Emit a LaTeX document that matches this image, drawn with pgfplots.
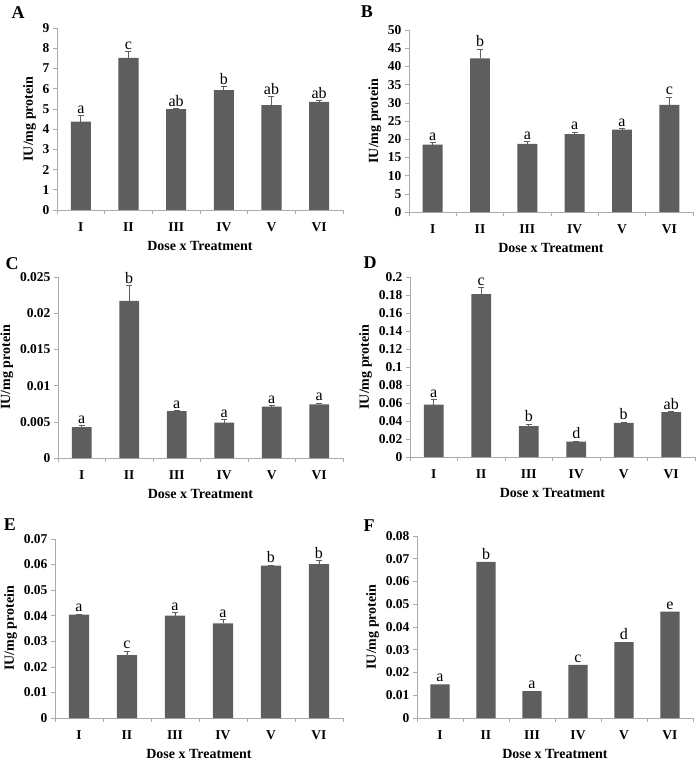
\documentclass[border=0pt]{standalone}
\usepackage{fontspec}
\setmainfont{Liberation Serif}
\usepackage{pgfplots}
\usepackage{pgfplotstable}
\pgfplotsset{compat=1.18}
\definecolor{barcol}{HTML}{5E5E5E}
\definecolor{axiscol}{HTML}{ABABAB}

\pgfplotsset{
  panel/.style={
    scale only axis,
    axis x line=bottom, axis y line=left,
    axis line style={draw=axiscol, -, line width=0.8pt},
    xmin=-0.5, xmax=5.5, ymin=0,
    xtick={0,...,5}, xticklabels={I,II,III,IV,V,VI},
    minor xtick={-0.5,0.5,...,5.5},
    major x tick style={draw=none},
    minor x tick style={draw=axiscol, line width=0.6pt},
    minor tick length=4pt,
    y tick style={draw=axiscol, line width=0.6pt},
    major tick length=4pt,
    tick align=outside,
    tick label style={font=\fontsize{13.5}{14}\selectfont\bfseries},
    xticklabel style={yshift=-5pt},
    /pgf/number format/assume math mode=true,
    /pgf/number format/fixed, /pgf/number format/precision=3,
    scaled y ticks=false,
    xlabel={Dose x Treatment}, ylabel={IU/mg protein},
    label style={font=\fontsize{14}{15}\selectfont\bfseries},
    xlabel style={yshift=-3pt},
    clip=false,
  },
  bars/.style={ybar, bar width=0.42, fill=barcol, draw=none},
  errs/.style={error bars/.cd, y dir=plus, y explicit,
    error bar style={barcol, line width=0.8pt},
    error mark options={rotate=90, mark size=3pt, barcol, line width=0.8pt}},
  letters/.style={only marks, mark=*, mark size=0pt,
    mark options={draw=none, fill=none},
    nodes near coords, point meta=explicit symbolic,
    nodes near coords style={font=\fontsize{16}{17}\selectfont,
      anchor=south, inner sep=2pt, text=black}},
}

% x = category, y = mean, e = error (up), t = top of error bar, lab = letter
\pgfplotstableread{
x y e t lab
0 4.37 0.29 4.66 a
1 7.52 0.30 7.82 c
2 4.99 0.02 5.01 ab
3 5.93 0.16 6.09 b
4 5.19 0.41 5.60 ab
5 5.35 0.05 5.40 ab
}\dataA
\pgfplotstableread{
x y e t lab
0 18.5 0.6 19.1 a
1 42.2 2.5 44.7 b
2 18.7 0.6 19.3 a
3 21.4 0.6 22.0 a
4 22.6 0.3 22.9 a
5 29.4 2.1 31.5 c
}\dataB
\pgfplotstableread{
x y e t lab
0 0.00426 0.00022 0.00448 a
1 0.0217 0.0021 0.0238 b
2 0.00648 0.00008 0.00656 a
3 0.0049 0.0004 0.0053 a
4 0.0071 0.0001 0.0072 a
5 0.0074 0.0002 0.0076 a
}\dataC
\pgfplotstableread{
x y e t lab
0 0.0581 0.0059 0.0640 a
1 0.181 0.007 0.188 c
2 0.0344 0.0019 0.0363 b
3 0.0170 0.0008 0.0178 d
4 0.0380 0.0010 0.0390 b
5 0.0500 0.0003 0.0503 ab
}\dataD
\pgfplotstableread{
x y e t lab
0 0.0404 0.0003 0.0407 a
1 0.0246 0.0016 0.0262 c
2 0.0400 0.0012 0.0412 a
3 0.0370 0.0015 0.0385 a
4 0.0596 0.0002 0.0598 b
5 0.0602 0.0013 0.0615 b
}\dataE
\pgfplotstableread{
x y lab
0 0.0148 a
1 0.0686 b
2 0.0118 a
3 0.0234 c
4 0.0333 d
5 0.0468 e
}\dataF

\begin{document}
\begin{tikzpicture}[x=1pt, y=1pt]

% A
\begin{axis}[panel, at={(57pt,-28pt)}, anchor=north west,
  width=286pt, height=182pt, ymax=9, ytick={0,1,...,9}]
  \addplot[bars, errs] table[x=x, y=y, y error=e] {\dataA};
  \addplot[letters] table[x=x, y=t, meta=lab] {\dataA};
\end{axis}

% B
\begin{axis}[panel, at={(409pt,-30pt)}, anchor=north west,
  width=284pt, height=182pt, ymax=50, ytick={0,5,...,50}]
  \addplot[bars, errs] table[x=x, y=y, y error=e] {\dataB};
  \addplot[letters] table[x=x, y=t, meta=lab] {\dataB};
\end{axis}

% C
\begin{axis}[panel, at={(58pt,-277pt)}, anchor=north west,
  width=285pt, height=181pt, ymax=0.025,
  ytick={0,0.005,0.01,0.015,0.02,0.025}]
  \addplot[bars, errs] table[x=x, y=y, y error=e] {\dataC};
  \addplot[letters] table[x=x, y=t, meta=lab] {\dataC};
\end{axis}

% D
\begin{axis}[panel, at={(410pt,-277pt)}, anchor=north west,
  width=285pt, height=180pt, ymax=0.2,
  ytick={0,0.02,0.04,0.06,0.08,0.1,0.12,0.14,0.16,0.18,0.2}]
  \addplot[bars, errs] table[x=x, y=y, y error=e] {\dataD};
  \addplot[letters] table[x=x, y=t, meta=lab] {\dataD};
\end{axis}

% E
\begin{axis}[panel, at={(55pt,-539pt)}, anchor=north west,
  width=288pt, height=179pt, ymax=0.07,
  ytick={0,0.01,0.02,0.03,0.04,0.05,0.06,0.07}]
  \addplot[bars, errs] table[x=x, y=y, y error=e] {\dataE};
  \addplot[letters] table[x=x, y=t, meta=lab] {\dataE};
\end{axis}

% F
\begin{axis}[panel, at={(417pt,-536pt)}, anchor=north west,
  width=276pt, height=182pt, ymax=0.08,
  ytick={0,0.01,0.02,0.03,0.04,0.05,0.06,0.07,0.08}]
  \addplot[bars] table[x=x, y=y] {\dataF};
  \addplot[letters] table[x=x, y=y, meta=lab] {\dataF};
\end{axis}

% panel letters
\begin{scope}[every node/.style={font=\fontsize{18}{19}\selectfont\bfseries}]
  \node at (18pt,-13pt) {A};
  \node at (367pt,-12pt) {B};
  \node at (12pt,-264pt) {C};
  \node at (370pt,-263pt) {D};
  \node at (10pt,-525pt) {E};
  \node at (369pt,-526pt) {F};
\end{scope}

\pgfresetboundingbox
\path[use as bounding box] (0pt,0pt) rectangle (700pt,-764pt);
\end{tikzpicture}
\end{document}
